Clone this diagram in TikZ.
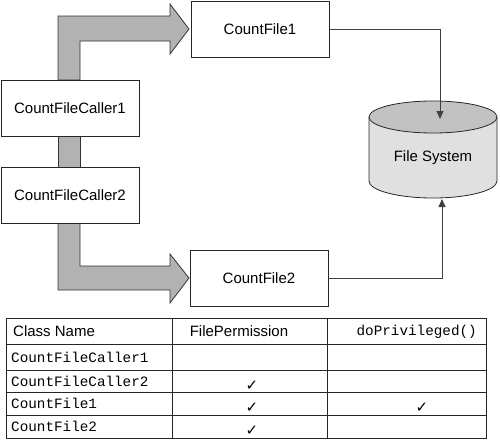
\documentclass[tikz,border=0pt]{standalone}
\usepackage{fontspec}
\setmainfont{Liberation Sans}
\setmonofont{Liberation Mono}
\newfontfamily\symfont{DejaVu Sans}
\usetikzlibrary{arrows.meta}

\tikzset{
  classbox/.style={draw=black!85, fill=white, line width=0.8pt, minimum width=138pt,
    minimum height=56pt, inner sep=0pt, font=\fontsize{15}{18}\selectfont},
  callflow/.style={draw=black!80, fill=black!30, line width=0.8pt, line join=miter},
  access/.style={draw=black!75, line width=0.8pt, -{Triangle[length=8pt,width=7pt]}},
  grid line/.style={draw=black!85, line width=0.8pt},
  head/.style={inner sep=0pt, font=\fontsize{15}{18}\selectfont},
  cell/.style={inner sep=0pt, anchor=west, font=\ttfamily\fontsize{14.3}{17}\selectfont},
  tick/.style={inner sep=0pt, font=\symfont\fontsize{15}{16}\selectfont},
}

\begin{document}
\begin{tikzpicture}[x=1pt,y=-1pt]
  \useasboundingbox (0,0) rectangle (500,442);
  %
  \draw[callflow] (58,80) -- (58,16) -- (170,16) -- (170,4) -- (189,29)
    -- (170,54) -- (170,41) -- (80,41) -- (80,80) -- cycle;
  \draw[callflow] (58,136) rectangle (80,167);
  \draw[callflow] (58,223) -- (58,290) -- (170,290) -- (170,303) -- (189,278)
    -- (170,254) -- (170,266) -- (80,266) -- (80,223) -- cycle;
  %
  \node[classbox] (caller1) at (70,108) {CountFileCaller1};
  \node[classbox] (caller2) at (70,195) {CountFileCaller2};
  \node[classbox] (cf1) at (260,29.5) {CountFile1};
  \node[classbox] (cf2) at (259,278) {CountFile2};
  %
  \draw[draw=black!85, fill=black!12, line width=0.8pt] (369,117) -- (369,181)
    arc[start angle=180, end angle=360, x radius=64pt, y radius=17pt] -- (497,117);
  \draw[draw=black!85, fill=black!24, line width=0.8pt] (433,117) ellipse [x radius=64pt, y radius=16pt];
  \node[head] (fs) at (433,158) {File System};
  %
  \coordinate (fs in1) at (440,119);
  \coordinate (fs in2) at (442,199);
  \draw[access] (cf1.east) -| (fs in1);
  \draw[access] (cf2.east) -| (fs in2);
  %
  \draw[grid line] (6,318) rectangle (486,438);
  \foreach \y in {344,370,392,415}
    \draw[grid line] (6,\y) -- (486,\y);
  \foreach \x in {172,327}
    \draw[grid line] (\x,318) -- (\x,438);
  %
  \node[head, anchor=west] (hclass) at (13,331) {Class Name};
  \node[head] (hperm) at (239,331) {FilePermission};
  \node[cell, anchor=east] (hpriv) at (477,332) {doPrivileged()};
  \foreach \name/\y [count=\i] in {CountFileCaller1/357, CountFileCaller2/381,
      CountFile1/403.5, CountFile2/426.5}
    \node[cell] (row\i) at (11,\y) {\name};
  %
  \node[tick] (chk1) at (252,386) {✓};
  \node[tick] (chk2) at (252,408) {✓};
  \node[tick] (chk3) at (422,408) {✓};
  \node[tick] (chk4) at (252,431) {✓};
\end{tikzpicture}
\end{document}
